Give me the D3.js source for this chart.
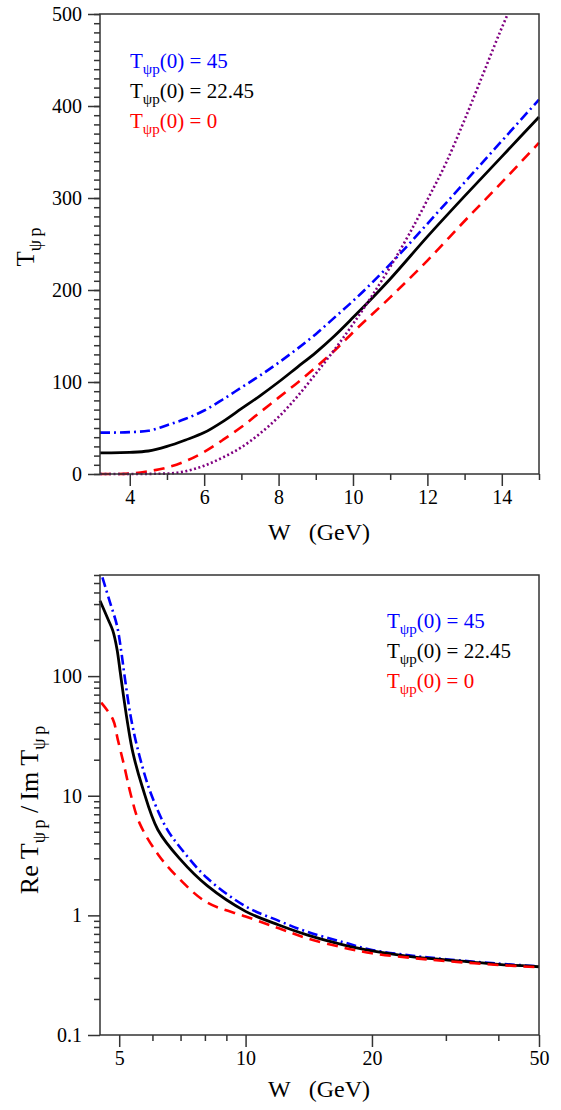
<!DOCTYPE html>
<html>
<head>
<meta charset="utf-8">
<script src="https://cdn.jsdelivr.net/npm/d3@7"></script>
<style>
  body { margin: 0; background: #fff; }
  svg text { font-family: "Liberation Serif", "Times New Roman", serif; }
</style>
</head>
<body>
<div id="chart"></div>
<script>
// ---- data ----
// top panel: T_psi p vs W (GeV)
var wTop = [3.2, 3.5, 4, 4.5, 5, 5.5, 6, 6.5, 7, 7.5, 8, 8.5, 9, 9.5, 10, 11, 12, 13, 14, 15];
var tBlue = [45, 45, 45.5, 47, 53, 60, 69, 81, 94, 107, 121, 136, 152, 170, 188, 228, 272, 317, 362, 407];
var tBlack = [23, 23, 23.5, 25, 30, 37, 45, 57, 71, 85, 100, 116, 132, 150, 170, 212, 258, 302, 345, 388];
var tRed = [0, 0, 0.5, 3, 7, 14, 24, 37, 51, 67, 83, 99, 116, 134, 154, 192, 232, 275, 317, 360];
var wPurple = [3.2, 4, 5, 5.5, 6, 6.5, 7, 7.5, 8, 8.5, 9, 9.5, 10, 10.5, 11, 11.5, 12, 12.5, 13, 13.5, 14, 14.16];
var tPurple = [0, 0, 0.5, 3, 9, 18, 29, 44, 62, 84, 109, 135, 163, 193, 225, 260, 298, 338, 385, 435, 485, 500];

// bottom panel: Re T / Im T vs W (GeV)
var wRatioBlue = [4.56, 4.74, 4.94, 5.06, 5.15, 5.34, 5.59, 5.94, 6.47, 7, 8.1, 10, 12, 14, 17, 20, 25, 30, 40, 50];
var rBlue = [670, 427, 264, 158, 100, 43.5, 21.4, 10.6, 5.4, 3.66, 2.05, 1.19, 0.9, 0.73, 0.6, 0.514, 0.46, 0.43, 0.395, 0.375];
var wRatioBlack = [4.5, 4.7, 4.83, 4.94, 5.03, 5.12, 5.25, 5.39, 5.67, 6.18, 7, 8.1, 10, 12, 14, 17, 20, 25, 30, 40, 50];
var rBlack = [427, 300, 239, 168, 107, 68, 38, 22.9, 12, 5.2, 2.92, 1.77, 1.08, 0.83, 0.687, 0.57, 0.504, 0.45, 0.425, 0.39, 0.372];
var wRatioRed = [4.53, 4.83, 4.96, 5.14, 5.34, 5.59, 6.2, 6.98, 8.1, 10, 12, 14, 17, 20, 25, 30, 40, 50];
var rRed = [60, 43.5, 29.6, 17.7, 9.9, 5.9, 3.2, 1.99, 1.28, 0.98, 0.78, 0.644, 0.54, 0.482, 0.44, 0.415, 0.385, 0.368];

// ticks
var topXTicks = [4, 6, 8, 10, 12, 14];
var topXMinor = [5, 7, 9, 11, 13, 15];
var topYTicks = [0, 100, 200, 300, 400, 500];
var botXTicks = [5, 10, 20, 50];
var botXMinor = [6, 7, 8, 9, 30, 40];
var botYTicks = [0.1, 1, 10, 100];

var legendLabels = ["45", "22.45", "0"];
var legendColors = ["#0000ff", "#000000", "#ff0000"];

var W = 561, H = 1110;
var left = 100, right = 539;
var serif = '"Liberation Serif", "Times New Roman", serif';

var svg = d3.select("#chart").append("svg")
  .attr("width", W)
  .attr("height", H)
  .attr("font-family", serif);

function zip(xs, ys) { return xs.map(function(d, i) { return [d, ys[i]]; }); }

function styleAxis(g) {
  g.attr("font-family", serif);
  g.select(".domain").remove();
  g.selectAll("line").attr("stroke", "#333").attr("stroke-width", 1.5);
  g.selectAll("text").style("font-size", "20px").style("font-family", serif).attr("fill", "#000");
}

function legend(g, x, y0, fs) {
  legendLabels.forEach(function(lab, i) {
    var t = g.append("text")
      .attr("x", x)
      .attr("y", y0 + i * 30)
      .attr("fill", legendColors[i])
      .style("font-family", serif)
      .style("font-size", fs + "px");
    t.append("tspan").text("T");
    t.append("tspan").attr("dy", 6).style("font-size", (fs * 0.72) + "px").text("\u03c8p");
    t.append("tspan").attr("dy", -6).text("(0) = " + lab);
  });
}

var styles = [
  {color: "#0000ff", dash: "10,4,2,4", w: 2.6},
  {color: "#000000", dash: null, w: 2.8},
  {color: "#ff0000", dash: "11,7", w: 2.6},
  {color: "#800080", dash: "2,2.5", w: 2.6}
];

// ---------------- top panel ----------------
var top0 = 14, top1 = 474;
var xT = d3.scaleLinear().domain([3.2, 15]).range([left, right]);
var yT = d3.scaleLinear().domain([0, 500]).range([top1, top0]);

var gTop = svg.append("g");

gTop.append("g")
  .attr("transform", "translate(0," + top1 + ")")
  .call(d3.axisBottom(xT).tickValues(topXMinor).tickSize(6).tickFormat(""))
  .call(styleAxis);
gTop.append("g")
  .attr("transform", "translate(0," + top1 + ")")
  .call(d3.axisBottom(xT).tickValues(topXTicks).tickSize(12).tickPadding(4).tickFormat(d3.format("d")))
  .call(styleAxis);

gTop.append("g")
  .attr("transform", "translate(" + left + ",0)")
  .call(d3.axisLeft(yT).tickValues(d3.range(0, 501, 10)).tickSize(6).tickFormat(""))
  .call(styleAxis);
gTop.append("g")
  .attr("transform", "translate(" + left + ",0)")
  .call(d3.axisLeft(yT).tickValues(topYTicks).tickSize(12).tickPadding(6).tickFormat(d3.format("d")))
  .call(styleAxis);

var lineT = d3.line()
  .x(function(d) { return xT(d[0]); })
  .y(function(d) { return yT(d[1]); })
  .curve(d3.curveMonotoneX);

[zip(wTop, tBlue), zip(wTop, tBlack), zip(wTop, tRed), zip(wPurple, tPurple)].forEach(function(data, i) {
  gTop.append("path")
    .datum(data)
    .attr("fill", "none")
    .attr("stroke", styles[i].color)
    .attr("stroke-width", styles[i].w)
    .attr("stroke-dasharray", styles[i].dash)
    .attr("d", lineT);
});

gTop.append("rect")
  .attr("x", left).attr("y", top0)
  .attr("width", right - left).attr("height", top1 - top0)
  .attr("fill", "none").attr("stroke", "#333").attr("stroke-width", 1.5);

legend(gTop, 130, 68, 21);

gTop.append("text")
  .attr("x", 319).attr("y", 540)
  .attr("text-anchor", "middle")
  .style("font-size", "24px")
  .text("W\u00a0\u00a0\u00a0(GeV)");

var yt = gTop.append("text")
  .attr("transform", "translate(34,247) rotate(-90)")
  .attr("text-anchor", "middle")
  .style("font-size", "25px");
yt.append("tspan").text("T");
yt.append("tspan").attr("dy", 7).style("font-size", "18px").text("\u03c8\u2009p");

// ---------------- bottom panel ----------------
var bot0 = 575, bot1 = 1035;
var xB = d3.scaleLog().domain([4.5, 50]).range([left, right]);
var yB = d3.scaleLog().domain([0.1, 700]).range([bot1, bot0]);

var gBot = svg.append("g");

gBot.append("g")
  .attr("transform", "translate(0," + bot1 + ")")
  .call(d3.axisBottom(xB).tickValues(botXMinor).tickSize(6).tickFormat(""))
  .call(styleAxis);
gBot.append("g")
  .attr("transform", "translate(0," + bot1 + ")")
  .call(d3.axisBottom(xB).tickValues(botXTicks).tickSize(12).tickPadding(4).tickFormat(function(d) { return d; }))
  .call(styleAxis);

var yMinor = [];
[0.1, 1, 10, 100].forEach(function(dec) {
  for (var k = 2; k <= 9; k++) if (dec * k <= 700) yMinor.push(dec * k);
});
gBot.append("g")
  .attr("transform", "translate(" + left + ",0)")
  .call(d3.axisLeft(yB).tickValues(yMinor).tickSize(6).tickFormat(""))
  .call(styleAxis);
gBot.append("g")
  .attr("transform", "translate(" + left + ",0)")
  .call(d3.axisLeft(yB).tickValues(botYTicks).tickSize(12).tickPadding(6).tickFormat(function(d) { return d; }))
  .call(styleAxis);

var lineB = d3.line()
  .x(function(d) { return xB(d[0]); })
  .y(function(d) { return yB(d[1]); })
  .curve(d3.curveCatmullRom.alpha(0.5));

[zip(wRatioBlue, rBlue), zip(wRatioBlack, rBlack), zip(wRatioRed, rRed)].forEach(function(data, i) {
  gBot.append("path")
    .datum(data)
    .attr("fill", "none")
    .attr("stroke", styles[i].color)
    .attr("stroke-width", styles[i].w)
    .attr("stroke-dasharray", styles[i].dash)
    .attr("d", lineB);
});

gBot.append("rect")
  .attr("x", left).attr("y", bot0)
  .attr("width", right - left).attr("height", bot1 - bot0)
  .attr("fill", "none").attr("stroke", "#333").attr("stroke-width", 1.5);

legend(gBot, 387, 628, 21);

gBot.append("text")
  .attr("x", 319).attr("y", 1097)
  .attr("text-anchor", "middle")
  .style("font-size", "24px")
  .text("W\u00a0\u00a0\u00a0(GeV)");

var yb = gBot.append("text")
  .attr("transform", "translate(38,810) rotate(-90)")
  .attr("text-anchor", "middle")
  .style("font-size", "26px");
yb.append("tspan").text("Re T");
yb.append("tspan").attr("dy", 7).style("font-size", "18px").text("\u03c8\u2009p");
yb.append("tspan").attr("dy", -7).text("\u00a0/\u2009Im T");
yb.append("tspan").attr("dy", 7).style("font-size", "18px").text("\u03c8\u2009p");
</script>
</body>
</html>
